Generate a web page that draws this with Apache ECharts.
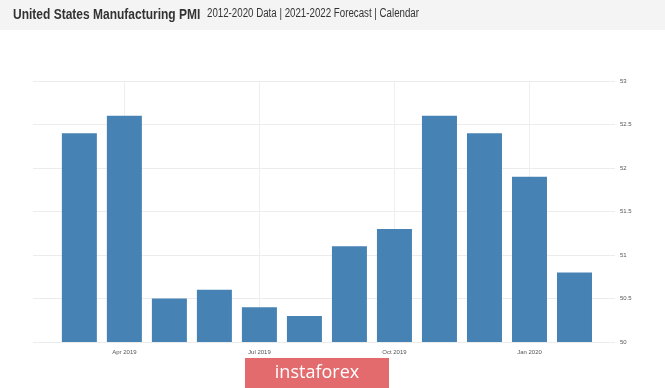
<!DOCTYPE html>
<html>
<head>
<meta charset="utf-8">
<script src="https://cdn.jsdelivr.net/npm/echarts@6/dist/echarts.min.js"></script>
<style>html,body{margin:0;padding:0;background:#fff;}#c{width:665px;height:388px;}</style>
</head>
<body>
<div id="c"></div>
<script>
// Months (Jan 2019 = month 0)
const months = ['Mar 2019','Apr 2019','May 2019','Jun 2019','Jul 2019','Aug 2019','Sep 2019','Oct 2019','Nov 2019','Dec 2019','Jan 2020','Feb 2020'];
const monthNumbers = [2,3,4,5,6,7,8,9,10,11,12,13];
const pmi = [52.4,52.6,50.5,50.6,50.4,50.3,51.1,51.3,52.6,52.4,51.9,50.8];
const xTickMonths = [3,6,9,12];
const xTickLabels = ['Apr 2019','Jul 2019','Oct 2019','Jan 2020'];
const yTicks = [50,50.5,51,51.5,52,52.5,53];

const chart = echarts.init(document.getElementById('c'), null, {renderer:'canvas'});
const labelMap = {};
xTickMonths.forEach((m,i)=>labelMap[m]=xTickLabels[i]);

chart.setOption({
  animation:false,
  backgroundColor:'#ffffff',
  graphic:[
    {type:'rect', shape:{x:0,y:0,width:665,height:30}, style:{fill:'#f4f4f4'}, z:-1},
    {type:'text', x:13, y:7, scaleX:0.8, style:{text:'United States Manufacturing PMI', font:'bold 15px "Liberation Sans", Arial, sans-serif', fill:'#333'}},
    {type:'text', x:207, y:8, scaleX:0.81, style:{text:'2012-2020 Data | 2021-2022 Forecast | Calendar', font:'12px "Liberation Sans", Arial, sans-serif', fill:'#333'}},
    {type:'rect', shape:{x:245,y:358,width:144,height:30}, style:{fill:'#e36b6e'}, z:10},
    {type:'text', x:317, y:373, z:11, style:{text:'instaforex', font:'18px "Open Sans", sans-serif', fill:'#ffffff', align:'center', verticalAlign:'middle'}}
  ],
  grid:{left:33, right:50, top:81, bottom:46},
  xAxis:{
    type:'value', min:0.97, max:13.9,
    axisLine:{show:false},
    axisTick:{show:false, customValues:xTickMonths},
    axisLabel:{customValues:xTickMonths, formatter:v=>labelMap[v]||'', fontSize:6, color:'#555', margin:7, fontFamily:'"Liberation Sans", Arial, sans-serif'},
    splitLine:{show:true, lineStyle:{color:'#efefef', width:1}}
  },
  yAxis:{
    type:'value', position:'right', min:50, max:53, interval:0.5,
    axisLine:{show:false}, axisTick:{show:false},
    axisLabel:{fontSize:6, color:'#555', margin:5, fontFamily:'"Liberation Sans", Arial, sans-serif'},
    splitLine:{lineStyle:{color:'#ececec', width:1}}
  },
  series:[{
    type:'bar',
    data:monthNumbers.map((m,i)=>[m,pmi[i]]),
    barWidth:35,
    itemStyle:{color:'#4682b4'}
  }]
});
</script>
</body>
</html>
